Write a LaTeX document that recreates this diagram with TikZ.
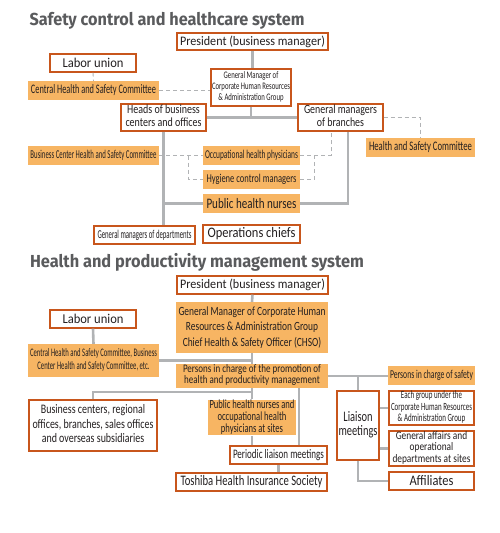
\documentclass[tikz,border=0pt]{standalone}
\usepackage{fontspec}
\usepackage{graphicx}
\setmainfont{Carlito}
\newfontfamily\fT{Fira Sans}
\usetikzlibrary{calc}
\definecolor{ob}{HTML}{C8561C}
\definecolor{of}{HTML}{F7B563}
\definecolor{ln}{HTML}{B1B3B5}
\definecolor{tx}{HTML}{231F20}
\definecolor{tg}{HTML}{5A5B5D}
\newcommand{\fsz}[2]{\fontsize{#1}{#2}\selectfont}
\newlength\hfw
\newcommand{\hfit}[2]{\settowidth{\hfw}{#2}\pgfmathsetmacro\hfs{#1/\hfw}\scalebox{\hfs}[1]{#2}}
\newcommand{\ml}[1]{\begin{tabular}{@{}c@{}}#1\end{tabular}}
\tikzset{
  box/.style={draw=ob, line width=1.4pt, fill=white, inner sep=0pt, text=tx},
  obox/.style={fill=of, inner sep=0pt, text=tx},
  sl/.style={draw=ln, line width=2.6pt},
  dl/.style={draw=ln, line width=0.9pt, dash pattern=on 4pt off 3pt},
  ttl/.style={anchor=base west, inner sep=0pt, text=tg, font=\fT\bfseries\fsz{17.4}{17.4}},
}
\begin{document}
\begin{tikzpicture}[x=1pt,y=-1pt]
\useasboundingbox (0,0) rectangle (500,533);
% ---------- section 1
\node[ttl] (t1) at (29.3,25.3) {\hfit{275}{Safety control and healthcare system}};
\node[box, minimum width=151pt, minimum height=17pt, font=\fsz{13}{13}] (pres1) at (252.5,41.5) {\hfit{145}{President (business manager)}};
\node[box, minimum width=86pt, minimum height=18pt, font=\fsz{13.5}{13.5}] (labor1) at (93,63) {\hfit{61}{Labor union}};
\node[obox, minimum width=131pt, minimum height=19pt, font=\fsz{13}{13}] (central1) at (93.5,90.5) {\hfit{125}{Central Health and Safety Committee}};
\node[box, minimum width=80pt, minimum height=37pt, font=\fsz{10}{11}] (gm1) at (251,87.5) {\hfit{78}{\ml{General Manager of\\Corporate Human Resources\\\& Administration Group}}};
\node[box, minimum width=85pt, minimum height=27pt, font=\fsz{12.5}{12}] (heads) at (163.5,117.5) {\hfit{76}{\ml{Heads of business\\centers and offices}}};
\node[box, minimum width=85pt, minimum height=27pt, font=\fsz{12.5}{12}] (branches) at (340.5,117.5) {\hfit{73}{\ml{General managers\\of branches}}};
\node[obox, minimum width=109pt, minimum height=19pt, font=\fsz{13}{13}] (hsc) at (420.5,147.5) {\hfit{103}{Health and Safety Committee}};
\node[obox, minimum width=131pt, minimum height=19pt, font=\fsz{12}{12}] (bchsc) at (93.5,155.5) {\hfit{126}{Business Center Health and Safety Committee}};
\node[obox, minimum width=97pt, minimum height=19pt, font=\fsz{12}{12}] (occ) at (251.5,155.5) {\hfit{93}{Occupational health physicians}};
\node[obox, minimum width=97pt, minimum height=19pt, font=\fsz{12}{12}] (hyg) at (251.5,179.5) {\hfit{90}{Hygiene control managers}};
\node[obox, minimum width=97pt, minimum height=19pt, font=\fsz{14.5}{14.5}] (phn) at (251.5,203.5) {\hfit{90}{Public health nurses}};
\node[box, minimum width=97pt, minimum height=18pt, font=\fsz{14.5}{14.5}] (ops) at (251.5,234) {\hfit{88}{Operations chiefs}};
\node[box, minimum width=101pt, minimum height=18pt, font=\fsz{12}{12}] (gmd) at (144.5,235) {\hfit{94}{General managers of departments}};
% connectors 1
\draw[sl] (pres1.south) -- (pres1.south |- gm1.north);
\draw[sl] (gm1.south) -- (gm1.south |- heads.east);
\draw[sl] (heads.east) -- (branches.west);
\draw[sl] (heads.south) -- (heads.south |- gmd.north);
\draw[sl] (heads.south |- phn.west) -- (phn.west);
\draw[sl] (phn.east) -| ([xshift=7.5pt]branches.south);
\draw[dl] (labor1.south) -- (central1.north);
\draw[dl] (central1.east) -- (central1.east -| gm1.west);
\draw[dl] (branches.east) -| (hsc.north);
\draw[dl] (bchsc.east) -- (occ.west);
\draw[dl] ($(occ.west)+(-14,0)$) |- (hyg.west);
\draw[dl] (occ.east) -| ([xshift=-9.5pt]branches.south);
\draw[dl] (hyg.east) -| ($(occ.east)+(14,0)$);
% ---------- section 2
\node[ttl] (t2) at (29.8,267.7) {\hfit{334}{Health and productivity management system}};
\node[box, minimum width=151pt, minimum height=18pt, font=\fsz{13}{13}] (pres2) at (252.5,285) {\hfit{145}{President (business manager)}};
\node[box, minimum width=86pt, minimum height=18pt, font=\fsz{13.5}{13.5}] (labor2) at (93,319) {\hfit{61}{Labor union}};
\node[obox, minimum width=152pt, minimum height=51pt, font=\fsz{12.5}{15.5}] (gm2) at (252,327.5) {\hfit{147}{\ml{General Manager of Corporate Human\\Resources \& Administration Group\\Chief Health \& Safety Officer (CHSO)}}};
\node[obox, minimum width=131pt, minimum height=33pt, font=\fsz{11.5}{13}] (central2) at (93.5,360.5) {\hfit{127}{\ml{Central Health and Safety Committee, Business\\Center Health and Safety Committee, etc.}}};
\node[obox, minimum width=152pt, minimum height=24pt, font=\fsz{11.5}{11}] (persons) at (252,376) {\hfit{138}{\ml{Persons in charge of the promotion of\\health and productivity management}}};
\node[obox, minimum width=87pt, minimum height=19pt, font=\fsz{12}{12}] (safety) at (431.5,375.5) {\hfit{83}{Persons in charge of safety}};
\node[box, minimum width=128pt, minimum height=51pt, font=\fsz{13}{14.5}] (bc) at (93,425.5) {\hfit{121}{\ml{Business centers, regional\\offices, branches, sales offices\\and overseas subsidiaries}}};
\node[obox, minimum width=88pt, minimum height=35pt, font=\fsz{12.5}{10.7}] (phn2) at (252,417.5) {\hfit{85}{\ml{Public health nurses and\\occupational health\\physicians at sites}}};
\node[box, minimum width=97pt, minimum height=18pt, font=\fsz{13}{13}] (periodic) at (278.5,455) {\hfit{91}{Periodic liaison meetings}};
\node[box, minimum width=151pt, minimum height=18pt, font=\fsz{14.5}{14.5}] (toshiba) at (251.5,482) {\hfit{142}{Toshiba Health Insurance Society}};
\node[box, minimum width=42pt, minimum height=69pt, font=\fsz{14.5}{14.5}] (liaison) at (358,425.5) {\hfit{39}{\ml{Liaison\\meetings}}};
\node[box, minimum width=85pt, minimum height=34pt, font=\fsz{11}{11.3}] (eachgroup) at (431.5,408) {\hfit{81}{\ml{Each group under the\\Corporate Human Resources\\\& Administration Group}}};
\node[box, minimum width=85pt, minimum height=35pt, font=\fsz{11.5}{10.3}] (genaff) at (431.5,448.5) {\hfit{78}{\ml{General affairs and\\operational\\departments at sites}}};
\node[box, minimum width=85pt, minimum height=18pt, font=\fsz{14.5}{14.5}] (affil) at (431.5,481) {\hfit{44}{Affiliates}};
% connectors 2
\draw[sl] (pres2.south) -- (gm2.north);
\draw[sl] (gm2.south) -- (persons.north);
\draw[sl] (labor2.south) -- (central2.north);
\draw[sl] (central2.east) -- (central2.east -| gm2.south);
\draw[sl] (persons.south) -- (phn2.north);
\draw[sl] (bc.north) |- ($(persons.south)!0.33!(phn2.north)$);
\draw[sl] (phn2.south) -- (phn2.south |- periodic.north);
\draw[sl] ([xshift=47pt]persons.south) -- ([xshift=47pt]persons.south |- periodic.north);
\draw[sl] (periodic.south) -- (periodic.south |- toshiba.north);
\draw[sl] (persons.east) -- (persons.east -| safety.west);
\draw[sl] (liaison.north) -- (liaison.north |- persons.east);
\draw[sl] (liaison.east |- eachgroup.west) -- (eachgroup.west);
\draw[sl] (liaison.east |- genaff.west) -- (genaff.west);
\draw[sl] (liaison.south) |- (affil.west);
\end{tikzpicture}
\end{document}
